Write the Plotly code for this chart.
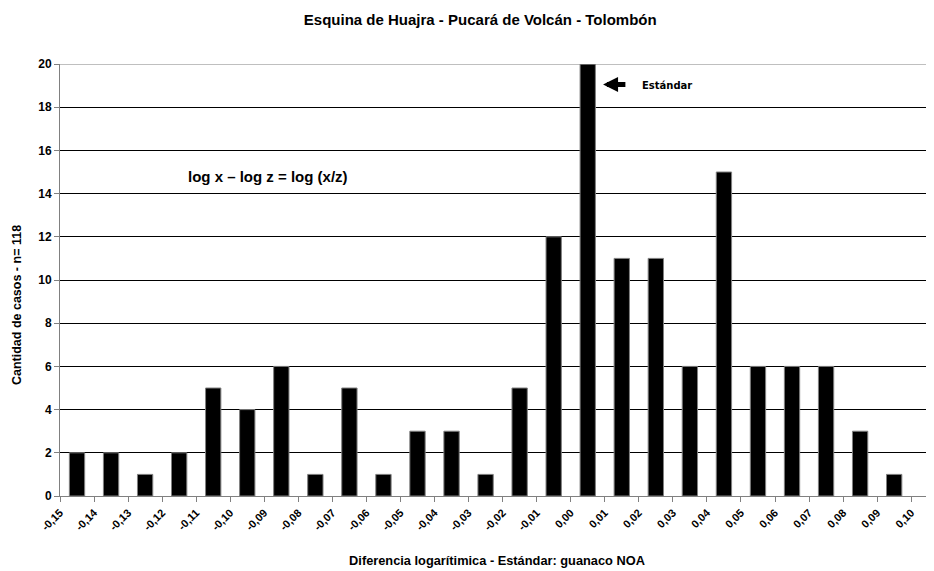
import plotly.graph_objects as go

# bin edges (tick labels) and counts per bin between consecutive edges
edges = [-0.15, -0.14, -0.13, -0.12, -0.11, -0.10, -0.09, -0.08, -0.07, -0.06,
         -0.05, -0.04, -0.03, -0.02, -0.01, 0.00, 0.01, 0.02, 0.03, 0.04,
         0.05, 0.06, 0.07, 0.08, 0.09, 0.10]
edge_labels = ['-0,15', '-0,14', '-0,13', '-0,12', '-0,11', '-0,10', '-0,09', '-0,08',
               '-0,07', '-0,06', '-0,05', '-0,04', '-0,03', '-0,02', '-0,01', '0,00',
               '0,01', '0,02', '0,03', '0,04', '0,05', '0,06', '0,07', '0,08', '0,09', '0,10']
counts = [2, 2, 1, 2, 5, 4, 6, 1, 5, 1, 3, 3, 1, 5, 12, 20, 11, 11, 6, 15, 6, 6, 6, 3, 1]

centers = [(a + b) / 2 for a, b in zip(edges[:-1], edges[1:])]

fig = go.Figure()
fig.add_trace(go.Bar(
    x=centers, y=counts, width=0.0045,
    marker=dict(color='black', line=dict(color='#808080', width=1)),
))

bold = dict(family='Liberation Sans, Arial', color='black')

# page body adds an 8px offset, so the figure is a bit smaller than the window
fig.update_layout(
    width=926, height=563,
    margin=dict(l=52, r=0, t=56, b=75),
    plot_bgcolor='white', paper_bgcolor='white',
    showlegend=False,
    title=dict(text='<b>Esquina de Huajra - Pucará de Volcán - Tolombón</b>',
               x=0.51, xanchor='center', y=0.98, yanchor='middle',
               font=dict(size=15, **bold)),
    xaxis=dict(
        range=[-0.15, 0.1067], automargin=False,
        tickmode='array', tickvals=edges,
        ticktext=['<b>%s</b>' % t for t in edge_labels],
        tickangle=-45, tickfont=dict(size=11, **bold),
        ticks='outside', ticklen=5, tickcolor='#808080',
        showline=True, linecolor='#808080', linewidth=1,
        showgrid=False, zeroline=False,
        title=dict(text='<b>Diferencia logarítimica - Estándar: guanaco NOA</b>',
                   font=dict(size=12.8, **bold), standoff=24),
    ),
    yaxis=dict(
        range=[0, 20], dtick=2, automargin=False,
        tickfont=dict(size=12, **bold),
        tickprefix='<b>', ticksuffix='</b>',
        ticks='outside', ticklen=5, tickcolor='#808080',
        showline=True, linecolor='#808080', linewidth=1,
        showgrid=True, gridcolor='black', gridwidth=1,
        zeroline=False,
    ),
)

# y title placed by hand (sits below the middle of the axis)
fig.add_annotation(x=-0.0595, y=0.442, xref='paper', yref='paper', textangle=-90,
                   showarrow=False, text='<b>Cantidad de casos - n= 118</b>',
                   font=dict(size=12.5, **bold))

# top border in grey
fig.add_shape(type='line', xref='paper', yref='y', x0=0, x1=1, y0=20, y1=20,
              line=dict(color='#808080', width=1))

fig.add_annotation(x=-0.089, y=14.77, xref='x', yref='y', showarrow=False,
                   text='<b>log x – log z = log (x/z)</b>',
                   font=dict(size=15, **bold))

fig.add_annotation(x=0.0095, y=19.05, ax=0.0165, ay=19.05, xref='x', yref='y',
                   axref='x', ayref='y', text='', showarrow=True,
                   arrowhead=2, arrowsize=0.6, arrowwidth=5, arrowcolor='black')
fig.add_annotation(x=0.0203, y=19.0, xref='x', yref='y', xanchor='left',
                   showarrow=False, text='<b>Estándar</b>',
                   font=dict(size=10, family='DejaVu Sans', color='black'))

fig.write_html('out.html')
